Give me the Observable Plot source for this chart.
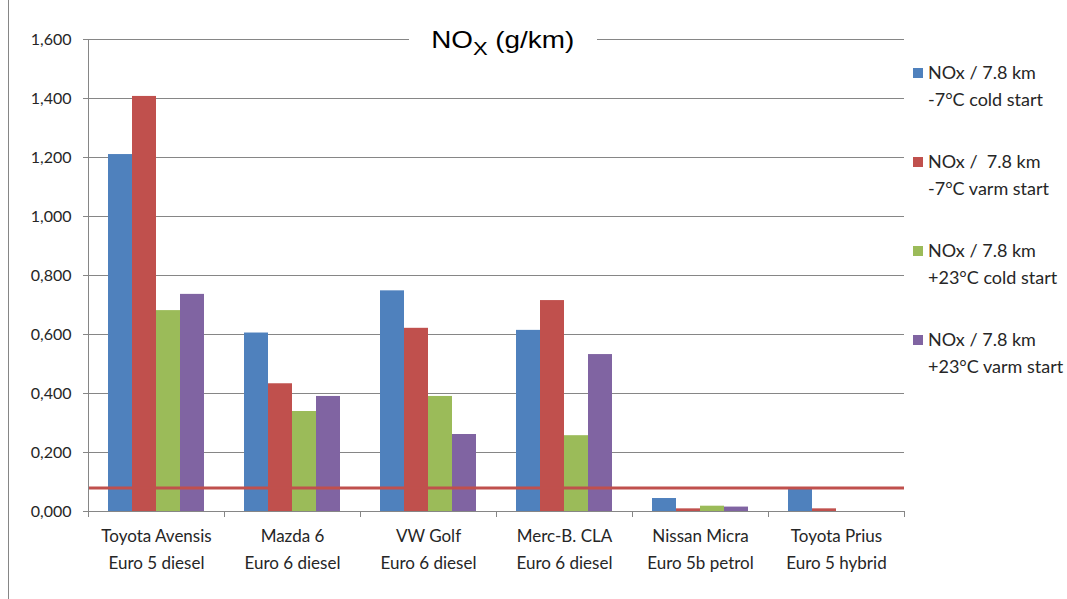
<!DOCTYPE html>
<html>
<head>
<meta charset="utf-8">
<script src="https://cdn.jsdelivr.net/npm/d3@7"></script>
<script src="https://cdn.jsdelivr.net/npm/@observablehq/plot@0.6"></script>
<style>
  body { margin: 0; background: #fff; }
  #wrap { position: relative; width: 1067px; height: 599px; overflow: hidden; font-family: Lato, "Open Sans", sans-serif; color: #262626; }
  #wrap svg { position: absolute; left: 0; top: 0; }
  #border { position: absolute; left: 8px; top: 0; width: 1px; height: 599px; background: #868686; }
  #title { position: absolute; left: 409px; top: 25px; width: 188px; height: 30px; text-align: center; background: #fff;
           font-family: "Liberation Sans", Arial, sans-serif; font-size: 24px; line-height: 30px; color: #000; white-space: nowrap; }
  #title span { display: inline-block; transform: scaleX(1.16); }
  #title sub { font-size: 19px; vertical-align: -7px; line-height: 0; }
  .item { position: absolute; left: 913px; font-size: 18px; line-height: 27px; white-space: pre; }
  .sw { position: absolute; left: 0; top: 8px; width: 10px; height: 10px; }
  .tx { position: absolute; left: 15px; top: -1px; }
</style>
</head>
<body>
<div id="wrap">
  <div id="border"></div>
</div>
<script>
// ---- data ----
const categories = ["Toyota Avensis", "Mazda 6", "VW Golf", "Merc-B. CLA", "Nissan Micra", "Toyota Prius"];
const subLabels = ["Euro 5 diesel", "Euro 6 diesel", "Euro 6 diesel", "Euro 6 diesel", "Euro 5b petrol", "Euro 5 hybrid"];
const seriesKeys = ["cold-7", "varm-7", "cold+23", "varm+23"];
const seriesLine1 = ["NOx / 7.8 km", "NOx /  7.8 km", "NOx / 7.8 km", "NOx / 7.8 km"];
const seriesLine2 = ["-7°C cold start", "-7°C varm start", "+23°C cold start", "+23°C varm start"];
const seriesColors = ["#4F81BD", "#C0504D", "#9BBB59", "#8064A2"];
const coldMinus7 = [1.210, 0.605, 0.748, 0.614, 0.044, 0.077];
const varmMinus7 = [1.407, 0.433, 0.621, 0.715, 0.009, 0.009];
const coldPlus23 = [0.681, 0.339, 0.390, 0.257, 0.018, 0.000];
const varmPlus23 = [0.736, 0.390, 0.261, 0.532, 0.015, 0.000];
const limitValue = [0.08];
const yTicks = [0, 0.2, 0.4, 0.6, 0.8, 1.0, 1.2, 1.4, 1.6];
const yTickLabels = ["0,000", "0,200", "0,400", "0,600", "0,800", "1,000", "1,200", "1,400", "1,600"];
const titleMain = "NO";
const titleSub = "X";
const titleRest = " (g/km)";

const seriesValues = [coldMinus7, varmMinus7, coldPlus23, varmPlus23];
const data = [];
categories.forEach((c, i) => seriesKeys.forEach((s, j) => data.push({category: c, series: s, value: seriesValues[j][i]})));

const chart = Plot.plot({
  width: 1067,
  height: 599,
  marginLeft: 86,
  marginRight: 161,
  marginTop: 39,
  marginBottom: 88,
  style: {fontFamily: "Lato, 'Open Sans', sans-serif", fontSize: "16px", color: "#262626", background: "transparent", overflow: "visible"},
  fx: {domain: categories, padding: 0, label: null},
  x: {domain: seriesKeys, paddingInner: 0, paddingOuter: 0.74, axis: null},
  y: {domain: [0, 1.6], label: null},
  color: {domain: seriesKeys, range: seriesColors},
  marks: [
    Plot.gridY(yTicks, {stroke: "#868686", strokeOpacity: 1}),
    Plot.barY(data, {fx: "category", x: "series", y: "value", fill: "series", inset: 0}),
    Plot.ruleY([0], {stroke: "#868686"}),
    Plot.ruleY(limitValue, {stroke: "#C0504D", strokeWidth: 3}),
    Plot.axisY(yTicks, {tickFormat: d => yTickLabels[yTicks.indexOf(d)], tickSize: 5, tickPadding: 12, stroke: "#868686", label: null, fontSize: 16}),
    Plot.axisFx({anchor: "bottom", tickSize: 0, tickPadding: 12, lineHeight: 1.56, label: null, fontSize: 17,
      tickFormat: d => d + "\n" + subLabels[categories.indexOf(d)]})
  ]
});

const wrap = document.getElementById("wrap");
wrap.appendChild(chart);

// axis line and category boundary ticks, placed with the chart's own scales
const fx = chart.scale("fx");
const y = chart.scale("y");
const svg = d3.select(chart);
const y0 = y.apply(0), yTop = y.apply(1.6);
const left = fx.apply(categories[0]);
const bw = fx.bandwidth;
const g = svg.append("g").attr("stroke", "#868686").attr("stroke-width", 1);
g.append("line").attr("x1", left + 0.5).attr("x2", left + 0.5).attr("y1", yTop).attr("y2", y0);
const bounds = categories.map(c => fx.apply(c)).concat([fx.apply(categories[categories.length - 1]) + bw]);
bounds.forEach(b => g.append("line").attr("x1", Math.round(b) + 0.5).attr("x2", Math.round(b) + 0.5).attr("y1", y0).attr("y2", y0 + 6));

// title
const title = document.createElement("div");
title.id = "title";
title.innerHTML = "<span>" + titleMain + "<sub>" + titleSub + "</sub>" + titleRest + "</span>";
wrap.appendChild(title);

// legend
seriesKeys.forEach((k, i) => {
  const it = document.createElement("div");
  it.className = "item";
  it.style.top = (60 + i * 89) + "px";
  it.innerHTML = '<div class="sw" style="background:' + seriesColors[i] + '"></div><div class="tx">' + seriesLine1[i] + "\n" + seriesLine2[i] + "</div>";
  wrap.appendChild(it);
});
</script>
</body>
</html>
